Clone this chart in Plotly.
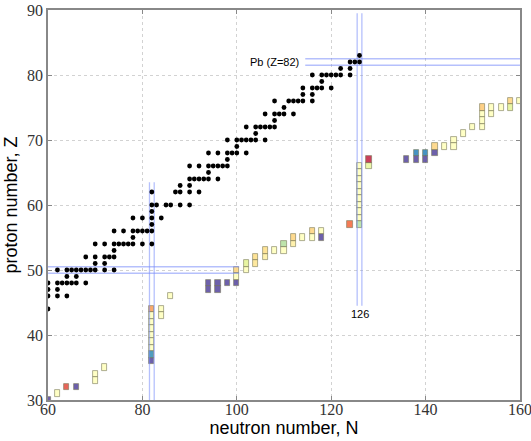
import plotly.graph_objects as go

# ---------------- data ----------------
# stable nuclides: proton number Z and the neutron numbers N of its stable isotopes (N >= 60)
stable_Z = [44, 46, 47, 48, 49, 50, 51, 52, 53, 54, 55, 56, 57, 58, 59, 60, 62, 63,
            64, 65, 66, 67, 68, 69, 70, 71, 72, 73, 74, 75, 76, 77, 78, 79, 80, 81, 82, 83]
stable_N = [
    [60],
    [60, 62, 64],
    [60, 62],
    [60, 62, 63, 64, 65, 66, 68],
    [64, 66],
    [62, 64, 65, 66, 67, 68, 69, 70, 72, 74],
    [70, 72],
    [68, 70, 72, 73, 74],
    [74],
    [70, 72, 74, 75, 76, 77, 78, 80, 82],
    [78],
    [74, 76, 78, 79, 80, 81, 82],
    [82],
    [78, 80, 82, 84],
    [82],
    [82, 83, 85, 86, 88, 90],
    [82, 87, 88, 90, 92],
    [88, 90],
    [90, 91, 92, 93, 94, 96],
    [94],
    [90, 92, 94, 95, 96, 97, 98],
    [98],
    [94, 96, 98, 99, 100, 102],
    [100],
    [98, 100, 101, 102, 103, 104, 106],
    [104],
    [102, 104, 105, 106, 107, 108],
    [108],
    [106, 108, 109, 110, 112],
    [110],
    [108, 111, 112, 113, 114, 116],
    [114, 116],
    [114, 116, 117, 118, 120],
    [118],
    [116, 118, 119, 120, 121, 122, 124],
    [122, 124],
    [124, 125, 126],
    [126],
]

# r-process path nuclei: N, Z and colour value (0 = low, 1 = high on Spectral_r)
path_N = [60, 62, 64, 66, 70, 70, 72,
          82, 82, 82, 82, 82, 82, 82, 82, 82,
          84, 84, 86, 94, 94, 96, 96, 98,
          100, 100, 100, 102, 102, 104, 104, 106, 106, 108, 110, 110,
          112, 112, 114, 116, 116, 118, 118, 124,
          126, 126, 126, 126, 126, 126, 126, 126, 126, 126,
          128, 128, 136, 138, 138, 140, 140, 142, 142, 144, 146, 146, 148, 150,
          152, 152, 152, 152, 154, 154, 156, 158, 158, 160]
path_Z = [30, 31, 32, 32, 33, 34, 35,
          36, 37, 38, 39, 40, 41, 42, 43, 44,
          43, 44, 46, 47, 48, 47, 48, 48,
          48, 49, 50, 50, 51, 51, 52, 52, 53, 53, 53, 54,
          54, 55, 55, 55, 56, 55, 56, 57,
          57, 58, 59, 60, 61, 62, 63, 64, 65, 66,
          66, 67, 67, 67, 68, 67, 68, 68, 69, 69, 69, 70, 71, 72,
          72, 73, 74, 75, 74, 75, 75, 75, 76, 76]
path_val = [0.0, 0.5, 0.85, 0.0, 0.5, 0.5, 0.5,
            0.0, 0.12, 0.5, 0.5, 0.5, 0.5, 0.5, 0.5, 0.72,
            0.5, 0.5, 0.5, 0.0, 0.0, 0.0, 0.0, 0.0,
            0.0, 0.5, 0.62, 0.5, 0.4, 0.58, 0.6, 0.55, 0.6, 0.5, 0.5, 0.32,
            0.55, 0.62, 0.5, 0.5, 0.62, 0.0, 0.5, 0.8,
            0.32, 0.5, 0.5, 0.5, 0.5, 0.5, 0.5, 0.5, 0.5, 0.5,
            0.42, 0.93, 0.0, 0.0, 0.1, 0.0, 0.1, 0.0, 0.62, 0.5, 0.5, 0.5, 0.5, 0.5,
            0.5, 0.5, 0.5, 0.64, 0.5, 0.5, 0.5, 0.4, 0.62, 0.5]

# closed shells (magic numbers) and the extent of their guide lines
magic_N_82_span = (30, 63.5)     # Z range of the N=82 lines
magic_Z_50_span = (60, 100.5)    # N range of the Z=50 lines
magic_N_126_span = (44.5, 89.5)  # Z range of the N=126 lines
magic_Z_82_span = (114.5, 160)   # N range of the Z=82 lines

x_ticks = [60, 80, 100, 120, 140, 160]
y_ticks = [30, 40, 50, 60, 70, 80, 90]

# ---------------- figure ----------------
fig = go.Figure()

line_style = dict(color="rgba(120,140,250,0.55)", width=1.3)


def vpair(n, span):
    xs, ys = [], []
    for off in (-0.5, 0.5):
        xs += [n + off, n + off, None]
        ys += [span[0], span[1], None]
    return xs, ys


def hpair(z, span):
    xs, ys = [], []
    for off in (-0.5, 0.5):
        xs += [span[0], span[1], None]
        ys += [z + off, z + off, None]
    return xs, ys


for xs, ys in (vpair(82, magic_N_82_span), hpair(50, magic_Z_50_span),
               vpair(126, magic_N_126_span), hpair(82, magic_Z_82_span)):
    fig.add_trace(go.Scatter(x=xs, y=ys, mode="lines", line=line_style,
                             hoverinfo="skip", showlegend=False))

fig.add_trace(go.Bar(
    x=path_N, y=[1] * len(path_N), base=[z - 0.5 for z in path_Z], width=1.1,
    marker=dict(color=path_val, colorscale="Spectral_r", cmin=0, cmax=1,
                opacity=0.9, line=dict(color="rgba(105,105,70,0.75)", width=0.8)),
    showlegend=False))

dots_N, dots_Z = [], []
for z, ns in zip(stable_Z, stable_N):
    for n in ns:
        dots_N.append(n)
        dots_Z.append(z)
fig.add_trace(go.Scatter(x=dots_N, y=dots_Z, mode="markers",
                         marker=dict(color="black", size=4.8, line=dict(width=0)),
                         showlegend=False))

fig.add_annotation(x=113.5, y=82, text="Pb (Z=82)", showarrow=False, xanchor="right",
                   yanchor="middle", font=dict(family="Liberation Sans", size=11, color="black"))
fig.add_annotation(x=126, y=43.2, text="126", showarrow=False, xanchor="center",
                   yanchor="middle", font=dict(family="Liberation Sans", size=11, color="black"))

axis_common = dict(showline=True, linecolor="#888888", linewidth=1.6, mirror="ticks",
                   ticks="inside", ticklen=4, tickcolor="#888888", tickwidth=1,
                   showgrid=True, gridcolor="#d2d2d2", griddash="dot", gridwidth=0.8,
                   zeroline=False, automargin=False, ticklabeloverflow="allow",
                   tickfont=dict(family="Liberation Serif", size=16, color="#333333"),
                   title_font=dict(family="Liberation Sans", size=18, color="black"))

fig.update_xaxes(range=[60, 160], tickvals=x_ticks, ticktext=[str(t) for t in x_ticks],
                 title_text="neutron number, N", title_standoff=1, ticklabelstandoff=-6,
                 **axis_common)
fig.update_yaxes(range=[30, 90], tickvals=y_ticks, ticktext=[str(t) for t in y_ticks],
                 title_text="proton number, Z", title_standoff=5, **axis_common)

fig.update_layout(width=531, height=441, margin=dict(l=48, r=11, t=10, b=41),
                  plot_bgcolor="white", paper_bgcolor="white", barmode="overlay",
                  bargap=0)

fig.write_html("out.html")
